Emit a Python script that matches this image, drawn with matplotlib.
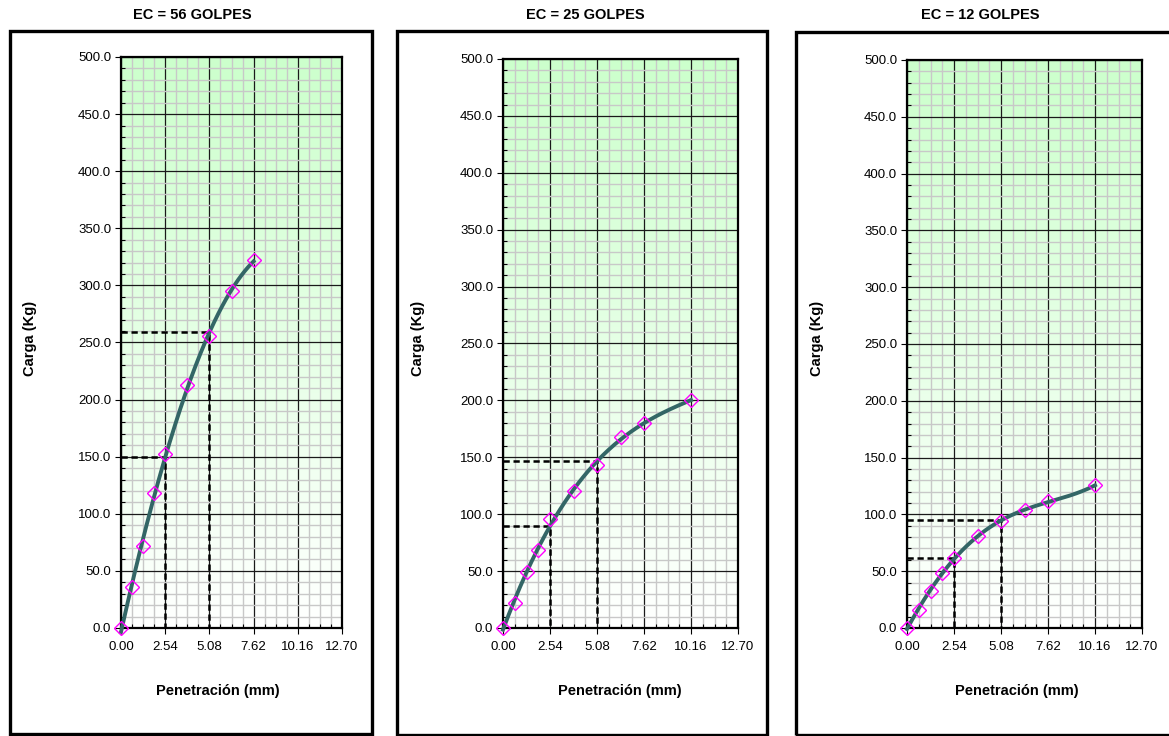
import matplotlib
matplotlib.use('Agg')
import matplotlib.pyplot as plt
import numpy as np
from matplotlib.patches import Rectangle
from matplotlib.ticker import MultipleLocator, FormatStrFormatter

plt.rcParams['font.family'] = ['Liberation Sans', 'DejaVu Sans']

W, H = 1169, 736

titles = ['EC = 56 GOLPES', 'EC = 25 GOLPES', 'EC = 12 GOLPES']

pen_56 = [0.0, 0.635, 1.27, 1.905, 2.54, 3.81, 5.08, 6.35, 7.62]
load_56 = [0.0, 36, 72, 118, 152, 213, 256, 295, 322]

pen_25 = [0.0, 0.635, 1.27, 1.905, 2.54, 3.81, 5.08, 6.35, 7.62, 10.16]
load_25 = [0.0, 22, 49, 68.5, 95.5, 120, 143, 167.5, 180.5, 200]

pen_12 = [0.0, 0.635, 1.27, 1.905, 2.54, 3.81, 5.08, 6.35, 7.62, 10.16]
load_12 = [0.0, 16, 33, 48.5, 61.5, 81, 94, 103.5, 111.5, 125.5]

# corrected loads read at 2.54 mm and 5.08 mm
ref_pen = [2.54, 5.08]
ref_56 = [149.5, 259]
ref_25 = [89.5, 147]
ref_12 = [61.5, 95]

fit_deg = [3, 3, 4]

x_ticks = [0.0, 2.54, 5.08, 7.62, 10.16, 12.70]

# layout in pixels: plot area (left, top, right, bottom) and outer box
plot_px = [(121, 57, 342, 628), (503, 59, 738, 628), (907, 60, 1142, 628)]
box_px = [(10, 31, 372, 734), (397, 31, 767, 735), (796, 32, 1175, 735)]
title_x = [192, 585, 980]
xlabel_x = [218, 620, 1017]
ylabel_x = [30, 418, 817]

fig = plt.figure(figsize=(W / 100, H / 100), dpi=100)

for (l, t, r, b) in box_px:
    fig.patches.append(Rectangle((l / W, 1 - b / H), (r - l) / W, (b - t) / H,
                                 transform=fig.transFigure, fill=False,
                                 edgecolor='black', linewidth=2.4))

series = [(pen_56, load_56, ref_56), (pen_25, load_25, ref_25), (pen_12, load_12, ref_12)]

for i, (pen, load, ref) in enumerate(series):
    l, t, r, b = plot_px[i]
    ax = fig.add_axes([l / W, 1 - b / H, (r - l) / W, (b - t) / H])

    # green-to-white background
    grad = np.linspace(1, 0, 256).reshape(-1, 1)
    top = np.array([204, 255, 204]) / 255
    img = np.ones((256, 1, 3)) * (1 - grad[..., None]) + top * grad[..., None]
    ax.imshow(img, extent=[0, 1, 0, 1], transform=ax.transAxes, aspect='auto', zorder=0)

    ax.set_xlim(0, 12.70)
    ax.set_ylim(0, 500)
    ax.set_xticks(x_ticks)
    ax.xaxis.set_major_formatter(FormatStrFormatter('%.2f'))
    ax.xaxis.set_minor_locator(MultipleLocator(0.635))
    ax.yaxis.set_minor_locator(MultipleLocator(10))
    ax.set_yticks(np.arange(0, 501, 50))
    ax.set_yticklabels(['0.0'] + ['%.1f' % v for v in np.arange(50, 501, 50)])

    ax.set_axisbelow(True)
    ax.grid(which='minor', color='#c8c8c8', linewidth=1.0)
    ax.grid(which='major', color='#1a1a1a', linewidth=0.9)

    ax.tick_params(which='major', direction='out', length=4, width=0.8, labelsize=9.5,
                   colors='black', pad=3)
    ax.tick_params(axis='x', which='major', pad=5)
    ax.tick_params(which='minor', direction='in', length=3, width=0.8)
    for s in ax.spines.values():
        s.set_linewidth(1.6)

    # trend curve
    coef = np.polyfit(pen, load, fit_deg[i])
    xs = np.linspace(0, pen[-1], 200)
    ax.plot(xs, np.polyval(coef, xs), color='#336666', linewidth=2.8, zorder=3, clip_on=False)

    # dashed reference lines
    for xp, yp in zip(ref_pen, ref):
        ax.plot([0, xp, xp], [yp, yp, 0], color='black', linestyle=(0, (2.5, 1.5)),
                linewidth=1.8, zorder=2.5)

    ax.plot(pen, load, linestyle='none', marker='D', markersize=7,
            markerfacecolor='none', markeredgecolor='#ff00ff', markeredgewidth=1.0,
            zorder=4, clip_on=False)

    fig.text(title_x[i] / W, 1 - 15 / H, titles[i], ha='center', va='center',
             fontsize=10.5, fontweight='bold')
    fig.text(xlabel_x[i] / W, 1 - 691 / H, 'Penetración (mm)', ha='center', va='center',
             fontsize=10.5, fontweight='bold')
    fig.text(ylabel_x[i] / W, 1 - 338 / H, 'Carga (Kg)', ha='center', va='center',
             fontsize=10.5, fontweight='bold', rotation=90)

plt.savefig('out.png', dpi=100)
